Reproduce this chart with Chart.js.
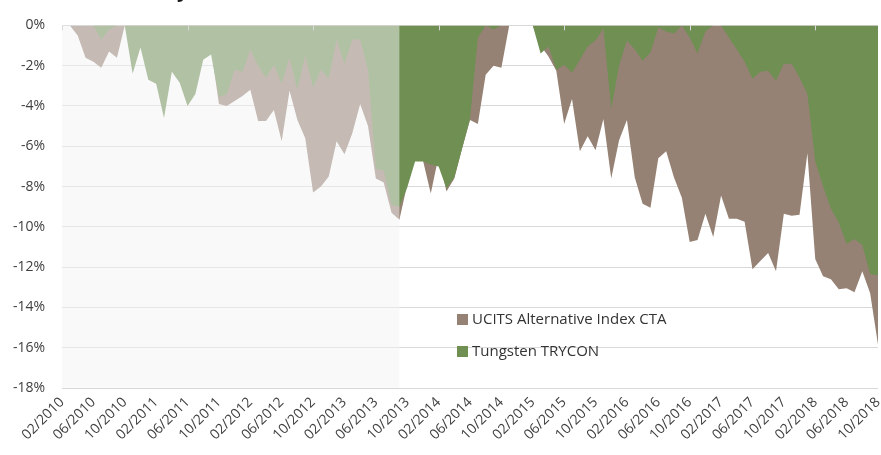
<!DOCTYPE html>
<html>
<head>
<meta charset="utf-8">
<script src="https://cdn.jsdelivr.net/npm/chart.js@4.4.0/dist/chart.umd.min.js"></script>
<style>
  body { margin: 0; background: #fff; overflow: hidden; }
  .wrap { position: relative; width: 881px; height: 455px; overflow: hidden; }
  .title { position: absolute; left: 4px; top: -20px; font: bold 20px "Open Sans"; line-height: 20px; color: #1a1a1a; white-space: nowrap; }
  .legend { position: absolute; left: 457px; top: 308px; font: 15px "Open Sans"; color: #333; }
  .legend div { height: 32px; line-height: 21px; white-space: nowrap; }
  .legend span { display: inline-block; width: 11px; height: 11px; margin-right: 4px; vertical-align: -1px; }
</style>
</head>
<body>
<div class="wrap">
  <canvas id="dd" width="881" height="455"></canvas>
  <div class="title">Drawdown history</div>
  <div class="legend">
    <div><span style="background:#968274"></span>UCITS Alternative Index CTA</div>
    <div><span style="background:#6f8f53"></span>Tungsten TRYCON</div>
  </div>
</div>
<script>
// monthly labels 02/2010 .. 10/2018
const months = [];
for (let k = 0; k < 105; k++) {
  const m = (1 + k) % 12 + 1;
  const y = 2010 + Math.floor((1 + k) / 12);
  months.push(String(m).padStart(2, '0') + '/' + y);
}

const ucitsCta = [
  0, 0, -0.5, -1.6, -1.8, -2.1, -1.3, -1.6, 0, -1.2,
  -0.8, -1.9, -2.2, -3.1, -2.0, -2.4, -3.2, -2.8, -1.4, -1.2,
  -3.9, -4.0, -3.75, -3.5, -3.2, -4.75, -4.75, -4.2, -5.75, -3.25,
  -4.7, -5.6, -8.3, -8.0, -7.5, -5.75, -6.4, -5.35, -3.9, -5.0,
  -7.6, -7.8, -9.3, -9.65, -7.9, -6.6, -6.7, -8.35, -6.5, -8.25,
  -7.6, -6.1, -4.7, -4.9, -2.45, -2.0, -2.1, 0, 0, 0,
  0, -1.0, -1.55, -2.25, -4.9, -3.65, -6.25, -5.5, -6.2, -4.65,
  -7.6, -5.7, -4.7, -7.55, -8.85, -9.05, -6.6, -6.25, -7.55, -8.55,
  -10.75, -10.65, -9.35, -10.5, -8.45, -9.6, -9.6, -9.75, -12.1, -11.7,
  -11.3, -12.2, -9.35, -9.45, -9.4, -6.35, -11.6, -12.45, -12.6, -13.1,
  -13.05, -13.25, -12.2, -13.3, -15.85
];

const trycon = [
  0, 0, 0, 0, 0, -0.7, -0.2, 0, 0, -2.4,
  -1.1, -2.7, -2.9, -4.6, -2.3, -2.85, -4.0, -3.4, -1.7, -1.45,
  -3.55, -3.4, -2.2, -2.3, -1.2, -2.0, -2.6, -1.95, -2.9, -1.6,
  -3.2, -1.5, -3.1, -2.2, -2.65, -0.7, -1.9, -0.7, -0.7, -2.2,
  -7.1, -7.2, -8.9, -9.0, -8.05, -6.75, -6.75, -6.9, -7.0, -8.1,
  -7.55, -6.1, -4.65, -0.6, 0, -0.2, 0, 0, 0, 0,
  0, -1.4, -1.05, -2.2, -1.95, -2.35, -1.7, -1.05, -0.75, -0.15,
  -4.15, -2.0, -0.75, -1.2, -1.75, -1.35, -0.1, -0.3, -0.4, 0,
  -0.6, -1.4, -0.3, 0, 0, -0.6, -1.2, -1.8, -2.65, -2.3,
  -2.25, -2.75, -1.9, -1.9, -2.6, -3.4, -6.75, -8.0, -9.1, -9.8,
  -10.85, -10.6, -10.9, -12.35, -12.4
];

const shadeEnd = months.indexOf('09/2013');

// pale box over the track-record period, then the small axis ticks at 0%
const overlay = {
  id: 'overlay',
  afterDatasetsDraw(chart) {
    const { ctx, chartArea, scales: { x } } = chart;
    ctx.save();
    ctx.fillStyle = 'rgba(244,244,244,0.5)';
    const right = x.getPixelForValue(shadeEnd);
    ctx.fillRect(chartArea.left, chartArea.top, right - chartArea.left, chartArea.bottom - chartArea.top);
    ctx.strokeStyle = '#d9d9d9';
    ctx.lineWidth = 1;
    x.ticks.forEach((t, i) => {
      if (i % 4) return;
      const px = Math.round(x.getPixelForTick(i)) + 0.5;
      ctx.beginPath();
      ctx.moveTo(px, chartArea.top);
      ctx.lineTo(px, chartArea.top + 5);
      ctx.stroke();
    });
    ctx.restore();
  }
};

new Chart(document.getElementById('dd'), {
  type: 'line',
  data: {
    labels: months,
    datasets: [
      {
        label: 'Tungsten TRYCON',
        data: trycon,
        order: 0,
        fill: 'origin',
        backgroundColor: '#6f8f53',
        borderWidth: 0,
        pointRadius: 0,
        tension: 0
      },
      {
        label: 'UCITS Alternative Index CTA',
        data: ucitsCta,
        order: 1,
        fill: 'origin',
        backgroundColor: '#968274',
        borderWidth: 0,
        pointRadius: 0,
        tension: 0
      }
    ]
  },
  options: {
    responsive: false,
    animation: false,
    layout: { padding: { top: 18, right: 3, left: 0, bottom: 0 } },
    plugins: {
      legend: { display: false },
      tooltip: { enabled: false }
    },
    scales: {
      x: {
        offset: false,
        grid: { display: false, drawTicks: false },
        border: { display: false },
        ticks: {
          autoSkip: false,
          minRotation: 45,
          maxRotation: 45,
          padding: 6,
          color: '#404040',
          font: { family: 'Open Sans', size: 14 },
          callback: (v, i) => (i % 4 === 0 ? months[i] : null)
        },
        afterFit(scale) {
          scale.height = 67;
          scale.paddingLeft = 0;
          scale.paddingRight = 0;
        }
      },
      y: {
        min: -18,
        max: 0,
        grid: { color: '#d9d9d9', drawTicks: false },
        border: { display: false },
        ticks: {
          stepSize: 2,
          padding: 17,
          color: '#404040',
          font: { family: 'Open Sans', size: 14 },
          callback: (v) => v + '%'
        },
        afterFit(scale) { scale.width = 62; }
      }
    }
  },
  plugins: [overlay]
});
</script>
</body>
</html>
